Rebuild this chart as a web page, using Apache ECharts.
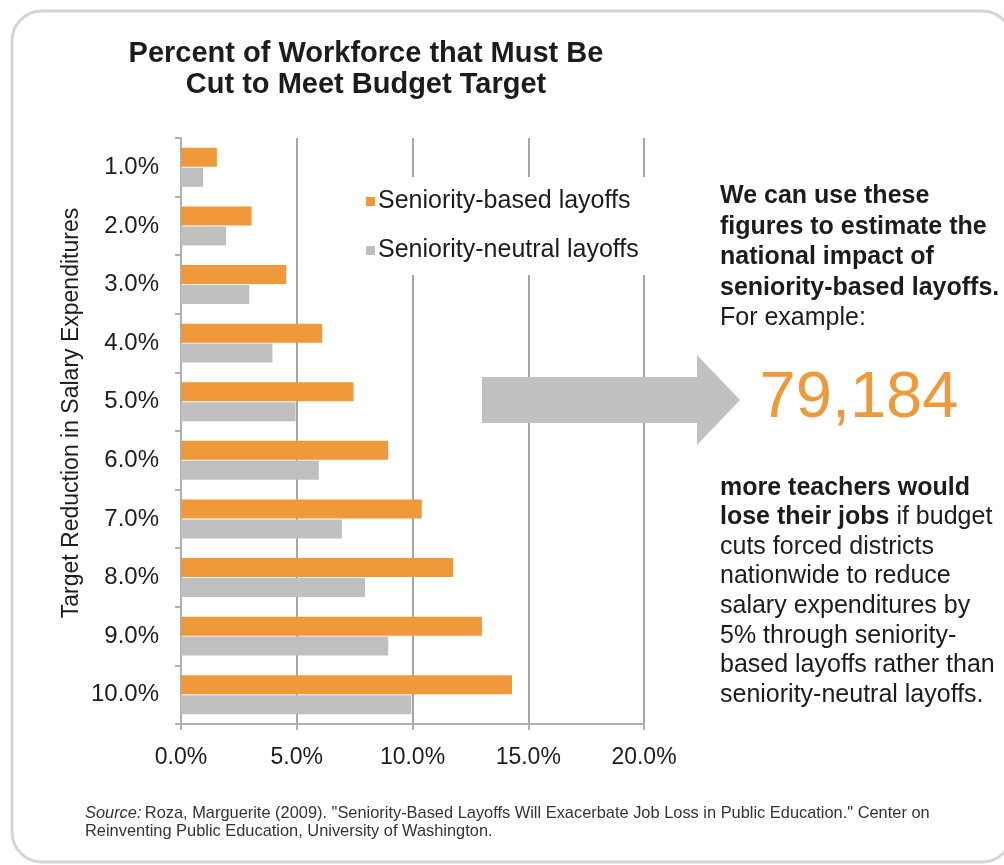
<!DOCTYPE html>
<html>
<head>
<meta charset="utf-8">
<script src="https://cdn.jsdelivr.net/npm/echarts@6/dist/echarts.min.js"></script>
<style>
html,body{margin:0;padding:0;background:#fff;}
#chart{width:1004px;height:865px;}
</style>
</head>
<body>
<div id="chart"></div>
<script>
const categories = ['1.0%','2.0%','3.0%','4.0%','5.0%','6.0%','7.0%','8.0%','9.0%','10.0%'];
const seniorityBased = [1.55, 3.05, 4.55, 6.1, 7.45, 8.95, 10.4, 11.75, 13.0, 14.3];
const seniorityNeutral = [0.95, 1.95, 2.95, 3.95, 4.95, 5.95, 6.95, 7.95, 8.95, 9.95];
const xTicks = [0, 5, 10, 15, 20];
const seriesNames = ['Seniority-based layoffs', 'Seniority-neutral layoffs'];
const titleText = 'Percent of Workforce that Must Be\nCut to Meet Budget Target';
const yAxisTitle = 'Target Reduction in Salary Expenditures';
const bigNumber = '79,184';
const sourceText = ['Roza, Marguerite (2009). "Seniority-Based Layoffs Will Exacerbate Job Loss in Public Education." Center on', 'Reinventing Public Education, University of Washington.'];

const FONT = '"Liberation Sans", Arial, Helvetica, sans-serif';
const ORANGE = '#f0993a';
const GRAY = '#bfbfbf';
const TXT = '#1c1c1c';

const chart = echarts.init(document.getElementById('chart'), null, {renderer: 'canvas'});

const option = {
  backgroundColor: '#ffffff',
  animation: false,
  textStyle: {fontFamily: FONT},
  title: {
    text: titleText,
    left: 361,
    top: 33,
    textAlign: 'center',
    textStyle: {fontFamily: FONT, fontSize: 29, fontWeight: 'bold', color: TXT, lineHeight: 31}
  },
  legend: {
    data: seriesNames,
    orient: 'vertical',
    left: 360,
    top: 177,
    padding: [12, 12, 12, 6],
    itemGap: 24,
    itemWidth: 9,
    itemHeight: 9,
    icon: 'rect',
    backgroundColor: '#ffffff',
    z: 20,
    textStyle: {fontFamily: FONT, fontSize: 25, color: TXT, padding: [0, 0, 0, -2]}
  },
  grid: {left: 181, right: 360, top: 138, bottom: 141, containLabel: false},
  xAxis: {
    type: 'value',
    min: 0, max: 20, interval: 5,
    axisLine: {show: true, lineStyle: {color: '#b0b0b0', width: 2}},
    axisTick: {show: true, length: 6, lineStyle: {color: '#b0b0b0', width: 2}},
    splitLine: {show: true, lineStyle: {color: '#a6a6a6', width: 2}},
    axisLabel: {
      margin: 22, fontFamily: FONT, fontSize: 23, color: TXT,
      formatter: v => xTicks.includes(v) ? v.toFixed(1) + '%' : ''
    }
  },
  yAxis: {
    type: 'category',
    data: categories,
    inverse: true,
    axisLine: {show: true, lineStyle: {color: '#b0b0b0', width: 2}},
    axisTick: {show: true, length: 6, lineStyle: {color: '#b0b0b0', width: 2}},
    axisLabel: {margin: 22, fontFamily: FONT, fontSize: 24, color: TXT},
    splitLine: {show: false}
  },
  series: [
    {
      name: seriesNames[0], type: 'bar', data: seniorityBased,
      barWidth: 19, barGap: '5%',
      itemStyle: {color: ORANGE}
    },
    {
      name: seriesNames[1], type: 'bar', data: seniorityNeutral,
      barWidth: 19, barGap: '5%',
      itemStyle: {color: GRAY}
    }
  ],
  graphic: [
    {
      type: 'rect', silent: true, z: 0,
      shape: {x: 12, y: 11, width: 1000, height: 851, r: 30},
      style: {fill: 'none', stroke: '#d4d4d4', lineWidth: 3}
    },
    {
      type: 'polygon', silent: true, z: 30,
      shape: {points: [[482, 377], [697, 377], [697, 355], [740, 400], [697, 445], [697, 423], [482, 423]]},
      style: {fill: '#c0c0c0'}
    },
    {
      type: 'text', silent: true, z: 30,
      x: 72, y: 413, rotation: Math.PI / 2,
      style: {text: yAxisTitle, fontFamily: FONT, fontSize: 23, fill: TXT, align: 'center', verticalAlign: 'middle'}
    },
    {
      type: 'text', silent: true, z: 30,
      x: 720, y: 181,
      style: {
        text: '{b|We can use these}\n{b|figures to estimate the}\n{b|national impact of}\n{b|seniority-based layoffs.}\n{n|For example:}',
        fontFamily: FONT, fill: TXT, align: 'left', verticalAlign: 'top',
        rich: {
          b: {fontFamily: FONT, fontSize: 25, fontWeight: 'bold', color: TXT, lineHeight: 30.5},
          n: {fontFamily: FONT, fontSize: 25, color: TXT, lineHeight: 30.5}
        }
      }
    },
    {
      type: 'text', silent: true, z: 30,
      x: 859, y: 399,
      style: {text: bigNumber, fontFamily: FONT, fontSize: 65, fill: ORANGE, align: 'center', verticalAlign: 'middle'}
    },
    {
      type: 'text', silent: true, z: 30,
      x: 720, y: 473,
      style: {
        text: '{b|more teachers would}\n{b|lose their jobs}{n| if budget}\n{n|cuts forced districts}\n{n|nationwide to reduce}\n{n|salary expenditures by}\n{n|5% through seniority-}\n{n|based layoffs rather than}\n{n|seniority-neutral layoffs.}',
        fontFamily: FONT, fill: TXT, align: 'left', verticalAlign: 'top',
        rich: {
          b: {fontFamily: FONT, fontSize: 25, fontWeight: 'bold', color: TXT, lineHeight: 29.6},
          n: {fontFamily: FONT, fontSize: 25, color: TXT, lineHeight: 29.6}
        }
      }
    },
    {
      type: 'text', silent: true, z: 30,
      x: 85, y: 804,
      style: {
        text: '{i|Source:} {n|' + sourceText[0] + '}\n{n|' + sourceText[1] + '}',
        fontFamily: FONT, fill: '#333', align: 'left', verticalAlign: 'top',
        rich: {
          i: {fontFamily: FONT, fontSize: 16.4, fontStyle: 'italic', color: '#333', lineHeight: 18},
          n: {fontFamily: FONT, fontSize: 16.4, color: '#333', lineHeight: 18}
        }
      }
    }
  ]
};
chart.setOption(option);
</script>
</body>
</html>
